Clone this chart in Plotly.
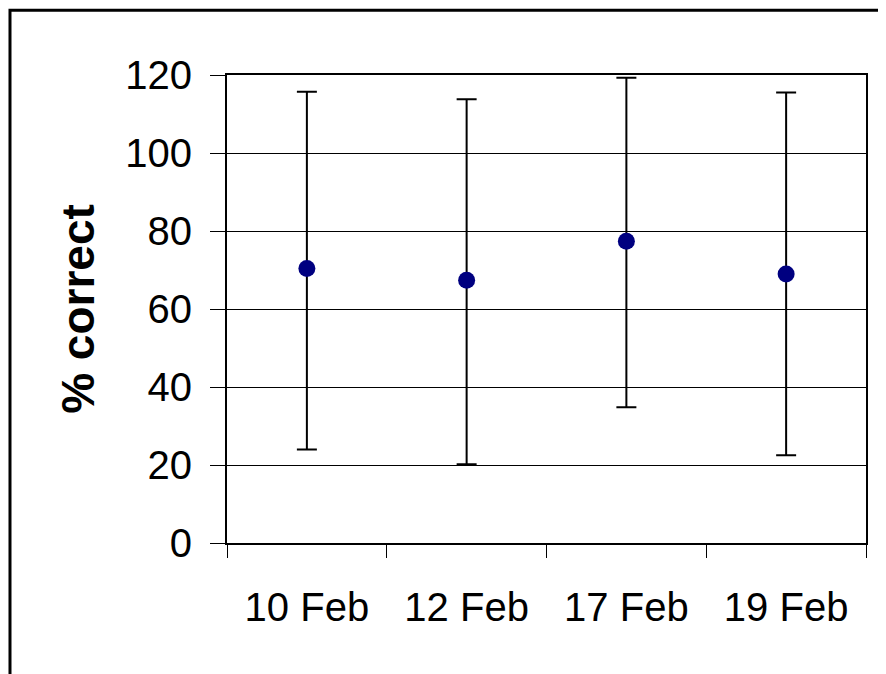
import plotly.graph_objs as go

#################################### DATOS #############################################
fechas = ['10 Feb', '12 Feb', '17 Feb', '19 Feb']
porcentaje_correcto = [70.4, 67.4, 77.4, 69.0]
error_superior = [45.3, 46.4, 41.9, 46.5]
error_inferior = [46.4, 47.2, 42.6, 46.5]
ticks_y = [0, 20, 40, 60, 80, 100, 120]

fuente = 'Arial, Liberation Sans, sans-serif'

# El body de la pagina tiene 8px de margen: la figura empieza en (8, 8)
fig = go.Figure(go.Scatter(
    x=fechas,
    y=porcentaje_correcto,
    mode='markers',
    marker=dict(color='#000080', size=17),
    error_y=dict(
        type='data',
        symmetric=False,
        array=error_superior,
        arrayminus=error_inferior,
        color='black',
        thickness=2,
        width=10,
    ),
    hovertemplate='%{x}: %{y}<extra></extra>',
))

fig.update_xaxes(dict(
    type='category',
    range=[-0.5, len(fechas) - 0.5],
    tickson='boundaries',
    ticks='outside', ticklen=13, tickwidth=1, tickcolor='black',
    showline=True, linewidth=2, linecolor='black', mirror=True,
    showgrid=False,
    tickfont=dict(size=40, color='black', family=fuente),
    ticklabelstandoff=28,
))

fig.update_yaxes(dict(
    range=[0, 120],
    tickvals=ticks_y,
    ticks='outside', ticklen=15, tickwidth=1, tickcolor='black',
    showline=True, linewidth=2, linecolor='black', mirror=True,
    showgrid=True, gridwidth=1, gridcolor='black',
    zeroline=False,
    tickfont=dict(size=40, color='black', family=fuente),
    ticklabelstandoff=10,
    title=dict(text='<b>% correct</b>', standoff=16,
               font=dict(size=46, color='black', family=fuente)),
))

# Marco exterior del grafico
fig.add_shape(
    type='rect', xref='paper', yref='paper',
    x0=-0.3396, x1=1.2, y0=-0.5, y1=1.1383,
    line=dict(color='black', width=3),
)

fig.update_layout(
    width=878, height=666,
    plot_bgcolor='#fff',
    paper_bgcolor='#fff',
    showlegend=False,
    margin=dict(l=219, r=20, t=67, b=131, pad=0),
)

fig.write_html('out.html')
